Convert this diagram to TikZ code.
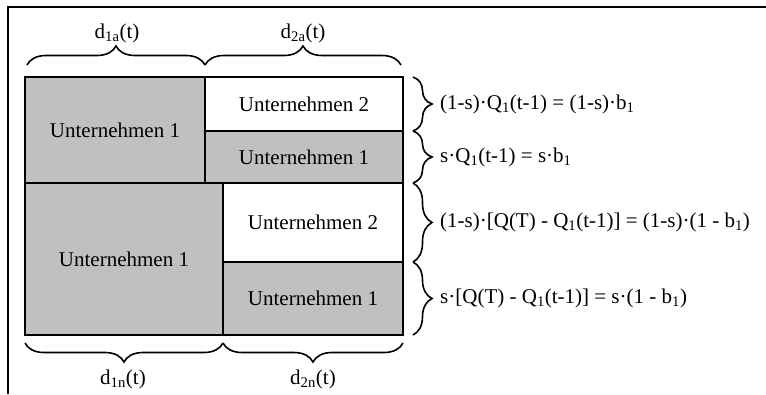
\documentclass[tikz,border=0pt]{standalone}
\usepackage{fontspec}
\setmainfont{Liberation Serif}
\usetikzlibrary{decorations.pathreplacing}
\definecolor{boxgray}{RGB}{192,192,192}
\begin{document}
\begin{tikzpicture}[x=1pt,y=-1pt,
  cell/.style={draw=black,line width=1.8pt},
  grayc/.style={cell,fill=boxgray},
  whitec/.style={cell,fill=white},
  lbl/.style={font=\fontsize{21}{25}\selectfont,inner sep=0pt},
  brc/.style={decorate,decoration={brace,amplitude=19pt},line width=1.6pt},
  frame/.style={line width=1.5pt}]
\useasboundingbox (0,0) rectangle (766,394);
% frame (top and left)
\draw[frame] (766,7) -- (8,7) -- (8,394);
% upper part
\draw[grayc] (25,77) rectangle (205,183);
\draw[whitec] (205,77) rectangle (403,131);
\draw[grayc] (205,131) rectangle (403,183);
% lower part
\draw[grayc] (25,183) rectangle (223,335);
\draw[whitec] (223,183) rectangle (403,262);
\draw[grayc] (223,262) rectangle (403,335);
% cell texts
\node[lbl] (u1a) at (115,130) {Unternehmen 1};
\node[lbl] (u2a) at (304,104) {Unternehmen 2};
\node[lbl] (u1b) at (304,157) {Unternehmen 1};
\node[lbl] (u1c) at (124,259) {Unternehmen 1};
\node[lbl] (u2c) at (313,222) {Unternehmen 2};
\node[lbl] (u1d) at (313,298) {Unternehmen 1};
% top braces
\coordinate (ta) at (27,65);
\coordinate (tb) at (205,65);
\coordinate (tc) at (401,65);
\draw[brc] (ta) -- (tb);
\draw[brc] (tb) -- (tc);
\node[lbl] (d1a) at (117,33) {d\textsubscript{1a}(t)};
\node[lbl] (d2a) at (303,33) {d\textsubscript{2a}(t)};
% bottom braces
\coordinate (ba) at (25,343);
\coordinate (bb) at (223,343);
\coordinate (bc) at (403,343);
\draw[brc] (bb) -- (ba);
\draw[brc] (bc) -- (bb);
\node[lbl] (d1n) at (123,379) {d\textsubscript{1n}(t)};
\node[lbl] (d2n) at (313,379) {d\textsubscript{2n}(t)};
% right braces
\coordinate (r0) at (413,77);
\coordinate (r1) at (413,131);
\coordinate (r2) at (413,183);
\coordinate (r3) at (413,262);
\coordinate (r4) at (413,335);
\draw[brc] (r0) -- (r1);
\draw[brc] (r1) -- (r2);
\draw[brc] (r2) -- (r3);
\draw[brc] (r3) -- (r4);
\node[lbl,anchor=west] (e1) at (440,104) {(1-s)·Q\textsubscript{1}(t-1) = (1-s)·b\textsubscript{1}};
\node[lbl,anchor=west] (e2) at (440,157) {s·Q\textsubscript{1}(t-1) = s·b\textsubscript{1}};
\node[lbl,anchor=west] (e3) at (440,222) {(1-s)·[Q(T) - Q\textsubscript{1}(t-1)] = (1-s)·(1 - b\textsubscript{1})};
\node[lbl,anchor=west] (e4) at (440,298) {s·[Q(T) - Q\textsubscript{1}(t-1)] = s·(1 - b\textsubscript{1})};
\end{tikzpicture}
\end{document}
